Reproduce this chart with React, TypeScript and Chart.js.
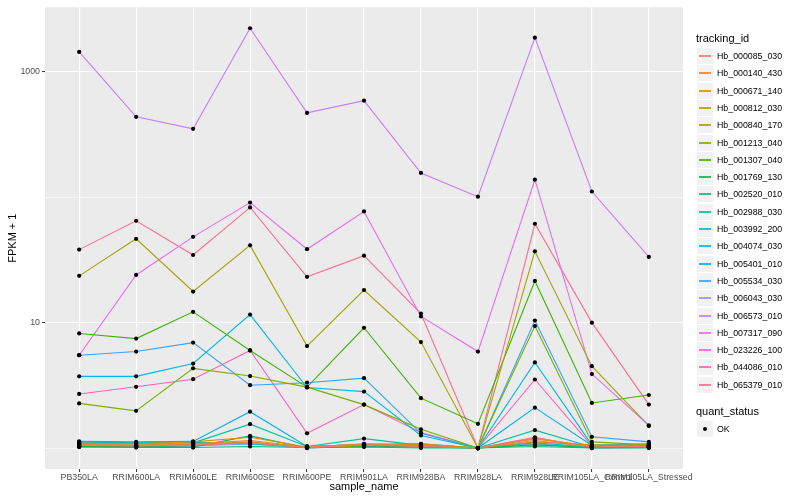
import React, { useEffect, useRef } from "react";
import { Chart, registerables } from "chart.js";

Chart.register(...registerables);

const FONT = '"Liberation Sans", Arial, Helvetica, sans-serif';

const categories = [
  "PB350LA", "RRIM600LA", "RRIM600LE", "RRIM600SE", "RRIM600PE", "RRIM901LA",
  "RRIM928BA", "RRIM928LA", "RRIM928LE", "RRIM105LA_Control", "RRIM105LA_Stressed",
];

const trackingIds = [
  "Hb_000085_030", "Hb_000140_430", "Hb_000671_140", "Hb_000812_030", "Hb_000840_170",
  "Hb_001213_040", "Hb_001307_040", "Hb_001769_130", "Hb_002520_010", "Hb_002988_030",
  "Hb_003992_200", "Hb_004074_030", "Hb_005401_010", "Hb_005534_030", "Hb_006043_030",
  "Hb_006573_010", "Hb_007317_090", "Hb_023226_100", "Hb_044086_010", "Hb_065379_010",
];

const seriesColors = [
  "#F8766D", "#EA8331", "#D89000", "#C09B00", "#A3A500", "#7CAE00", "#39B600", "#00BB4E",
  "#00BF7D", "#00C1A3", "#00BFC4", "#00BAE0", "#00B0F6", "#35A2FF", "#9590FF", "#C77CFF",
  "#E76BF3", "#FA62DB", "#FF62BC", "#FF6C91",
];

// FPKM + 1 values, one array per tracking_id, in category order
const hb000085_030 = [1.05, 1.04, 1.06, 1.1, 1.01, 1.06, 1.03, 1.0, 1.15, 1.02, 1.03];
const hb000140_430 = [1.07, 1.06, 1.08, 1.15, 1.02, 1.08, 1.05, 1.0, 1.2, 1.03, 1.02];
const hb000671_140 = [1.09, 1.08, 1.12, 1.22, 1.02, 1.07, 1.06, 1.0, 1.18, 1.04, 1.03];
const hb000812_030 = [1.06, 1.05, 1.07, 1.12, 1.01, 1.05, 1.08, 1.0, 1.12, 1.06, 1.05];
const hb000840_170 = [23.6, 46.6, 17.7, 41.3, 6.5, 18.2, 7.0, 1.0, 37.0, 4.5, 1.5];
const hb001213_040 = [2.27, 1.98, 4.32, 3.75, 3.06, 2.22, 1.41, 1.0, 9.4, 1.12, 1.06];
const hb001307_040 = [8.2, 7.46, 12.2, 6.0, 3.06, 9.1, 2.5, 1.56, 21.5, 2.29, 2.65];
const hb001769_130 = [1.03, 1.03, 1.02, 1.25, 1.0, 1.04, 1.02, 1.0, 1.06, 1.01, 1.01];
const hb002520_010 = [1.02, 1.01, 1.01, 1.03, 1.01, 1.02, 1.0, 1.0, 1.03, 1.0, 1.0];
const hb002988_030 = [1.12, 1.1, 1.1, 1.55, 1.03, 1.19, 1.05, 1.0, 1.39, 1.02, 1.04];
const hb003992_200 = [1.1, 1.09, 1.11, 1.08, 1.02, 1.06, 1.04, 1.0, 1.1, 1.02, 1.04];
const hb004074_030 = [3.73, 3.73, 4.72, 11.6, 3.04, 2.82, 1.26, 1.0, 4.82, 1.06, 1.05];
const hb005401_010 = [1.13, 1.12, 1.13, 1.95, 1.03, 1.07, 1.08, 1.0, 2.1, 1.05, 1.08];
const hb005534_030 = [5.5, 5.88, 6.93, 3.17, 3.32, 3.61, 1.31, 1.0, 10.4, 1.23, 1.12];
const hb006043_030 = [1.02, 1.02, 1.04, 1.08, 1.0, 1.03, 1.02, 1.0, 1.08, 1.0, 1.02];
const hb006573_010 = [1438, 437, 351, 2222, 470, 588, 156, 101, 1870, 111, 33.4];
const hb007317_090 = [5.5, 24, 48.3, 90.6, 38.5, 77, 11.2, 5.88, 138, 3.89, 1.52];
const hb023226_100 = [1.04, 1.03, 1.05, 1.1, 1.01, 1.05, 1.03, 1.0, 1.22, 1.0, 1.01];
const hb044086_010 = [2.7, 3.08, 3.54, 6.0, 1.31, 2.22, 1.33, 1.0, 3.52, 1.04, 1.03];
const hb065379_010 = [38.2, 64.8, 34.6, 82.9, 23.2, 34.2, 11.8, 1.0, 61.4, 10.0, 2.22];

const seriesValues = [
  hb000085_030, hb000140_430, hb000671_140, hb000812_030, hb000840_170,
  hb001213_040, hb001307_040, hb001769_130, hb002520_010, hb002988_030,
  hb003992_200, hb004074_030, hb005401_010, hb005534_030, hb006043_030,
  hb006573_010, hb007317_090, hb023226_100, hb044086_010, hb065379_010,
];

const yTickValues = [1, 10, 100, 1000];
const yLabeledTicks = [10, 1000];
const quantStatus = ["OK"];

const panelBg = {
  id: "panelBg",
  beforeDraw(chart: any) {
    const { ctx, chartArea } = chart;
    if (!chartArea) return;
    ctx.save();
    ctx.fillStyle = "#EBEBEB";
    ctx.fillRect(chartArea.left, chartArea.top, chartArea.right - chartArea.left, chartArea.bottom - chartArea.top);
    ctx.restore();
  },
};

export default function App() {
  const ref = useRef<HTMLCanvasElement | null>(null);

  useEffect(() => {
    if (!ref.current) return;
    const lineSets = seriesValues.map((vals, i) => ({
      label: trackingIds[i],
      data: vals.map((v, j) => ({ x: j, y: v })),
      borderColor: seriesColors[i],
      backgroundColor: seriesColors[i],
      borderWidth: 1.1,
      pointRadius: 0,
      tension: 0,
      order: 1,
    }));
    const pointSets = seriesValues.map((vals, i) => ({
      label: trackingIds[i] + "_pts",
      data: vals.map((v, j) => ({ x: j, y: v })),
      showLine: false,
      pointRadius: 2.1,
      pointBorderWidth: 0,
      pointBackgroundColor: "#000000",
      pointBorderColor: "#000000",
      order: 0,
    }));

    const chart = new Chart(ref.current, {
      type: "line",
      data: { datasets: [...lineSets, ...pointSets] as any },
      options: {
        animation: false,
        responsive: false,
        devicePixelRatio: 1,
        layout: { padding: { top: 5, right: 117, left: 0, bottom: 0 } },
        plugins: { legend: { display: false }, tooltip: { enabled: false } },
        scales: {
          x: {
            type: "linear",
            min: -0.6,
            max: 10.6,
            afterBuildTicks: (scale: any) => {
              scale.ticks = categories.map((_, i) => ({ value: i }));
            },
            afterFit: (scale: any) => {
              scale.height = 31;
            },
            border: { display: false },
            grid: {
              color: "#FFFFFF",
              lineWidth: 1.1,
              tickColor: "#333333",
              tickLength: 3,
              tickWidth: 1,
            },
            ticks: {
              autoSkip: false,
              maxRotation: 0,
              minRotation: 0,
              padding: 0,
              color: "#4D4D4D",
              font: { family: FONT, size: 8.8 },
              callback: (v: any) => categories[v as number] ?? "",
            },
            title: {
              display: true,
              text: "sample_name",
              color: "#000000",
              font: { family: FONT, size: 11 },
              padding: { top: 0, bottom: 6 },
            },
          },
          y: {
            type: "logarithmic",
            min: 0.681,
            max: 3266,
            afterBuildTicks: (scale: any) => {
              scale.ticks = yTickValues.map((v) => ({ value: v }));
            },
            afterFit: (scale: any) => {
              scale.width = 45;
            },
            border: { display: false },
            grid: {
              color: "#FFFFFF",
              lineWidth: (c: any) => (c.tick && yLabeledTicks.includes(c.tick.value) ? 1.1 : 0.55),
              tickColor: (c: any) => (c.tick && yLabeledTicks.includes(c.tick.value) ? "#333333" : "rgba(0,0,0,0)"),
              tickLength: 3,
              tickWidth: 1,
            },
            ticks: {
              padding: 2,
              color: "#4D4D4D",
              font: { family: FONT, size: 8.8 },
              callback: (v: any) => (yLabeledTicks.includes(v as number) ? String(v) : ""),
            },
            title: {
              display: true,
              text: "FPKM + 1",
              color: "#000000",
              font: { family: FONT, size: 11 },
              padding: { top: 6, bottom: 0 },
            },
          },
        },
      } as any,
      plugins: [panelBg],
    });
    return () => chart.destroy();
  }, []);

  const rowH = 17.3;
  const firstTop = 48;

  return (
    <div style={{ position: "fixed", left: 0, top: 0, width: 800, height: 500, background: "#FFFFFF", fontFamily: FONT }}>
      <canvas ref={ref} width={800} height={500} style={{ position: "absolute", left: 0, top: 0, width: 800, height: 500 }} />
      <div style={{ position: "absolute", left: 696, top: 32, fontSize: 11, color: "#000", lineHeight: "13px" }}>tracking_id</div>
      {trackingIds.map((id, i) => {
        const top = Math.round(firstTop + i * rowH);
        return (
          <React.Fragment key={id}>
            <div style={{ position: "absolute", left: 697, top: top, width: 16, height: 16, background: "#F2F2F2" }} />
            <div style={{ position: "absolute", left: 699, top: top + 7, width: 12, height: 2, background: seriesColors[i], opacity: 0.85 }} />
            <div style={{ position: "absolute", left: 717, top: top + 3, fontSize: 8.8, lineHeight: "11px", color: "#000" }}>{id}</div>
          </React.Fragment>
        );
      })}
      <div style={{ position: "absolute", left: 696, top: 405, fontSize: 11, color: "#000", lineHeight: "13px" }}>quant_status</div>
      {quantStatus.map((q, i) => (
        <React.Fragment key={q}>
          <div style={{ position: "absolute", left: 697, top: 421 + i * 17, width: 16, height: 16, background: "#F2F2F2" }} />
          <div style={{ position: "absolute", left: 703, top: 427 + i * 17, width: 4, height: 4, borderRadius: 2, background: "#000" }} />
          <div style={{ position: "absolute", left: 717, top: 424 + i * 17, fontSize: 8.8, lineHeight: "11px", color: "#000" }}>{q}</div>
        </React.Fragment>
      ))}
    </div>
  );
}
